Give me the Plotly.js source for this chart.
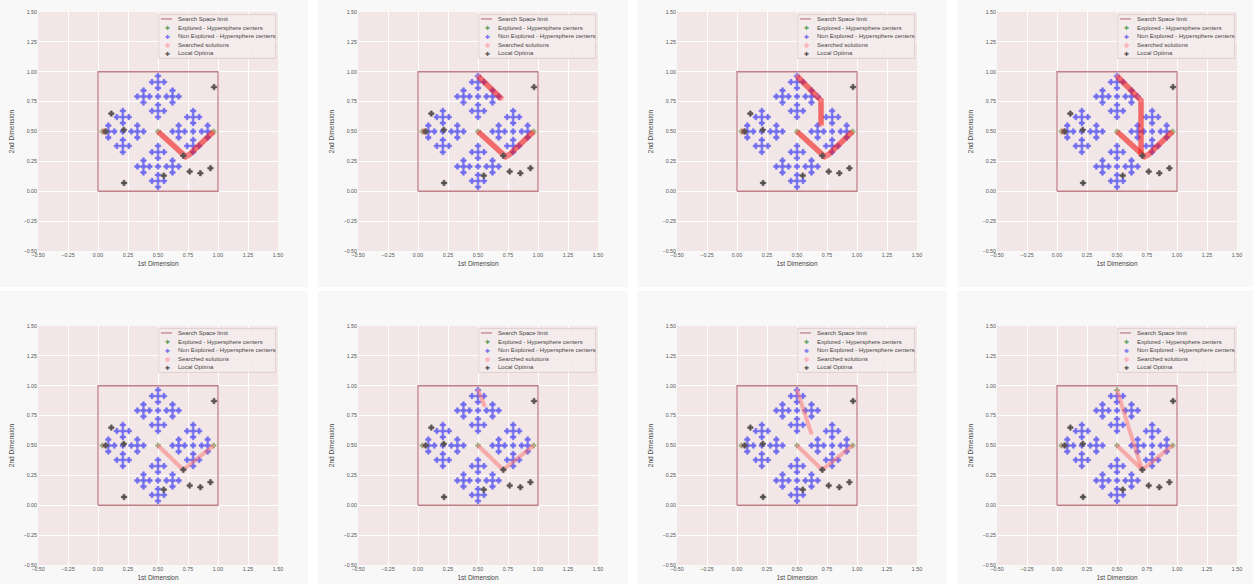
<!DOCTYPE html>
<html>
<head>
<meta charset="utf-8">
<script src="https://cdn.plot.ly/plotly-3.0.1.min.js"></script>
<style>
html,body{margin:0;padding:0;background:#ffffff;width:1253px;height:584px;overflow:hidden;position:relative;}
.panel{position:absolute;width:310px;height:310px;}
</style>
</head>
<body>
<script>
// ---------- DATA ----------
const searchLimitX = [0, 1, 1, 0, 0];
const searchLimitY = [0, 0, 1, 1, 0];

// Non explored hypersphere centers (four sub-diamonds)
const centersX = [
  // top
  0.5, 0.5,0.5,0.5,0.45,0.55, 0.5,0.5,0.5,0.45,0.55, 0.379,0.328,0.429,0.379,0.379, 0.621,0.571,0.672,0.621,0.621,
  // bottom
  0.5, 0.5,0.5,0.5,0.45,0.55, 0.5,0.5,0.5,0.45,0.55, 0.379,0.328,0.429,0.379,0.379, 0.621,0.571,0.672,0.621,0.621,
  // left
  0.207, 0.086,0.136,0.086,0.086, 0.328,0.278,0.379,0.328,0.328, 0.207,0.207,0.207,0.157,0.257, 0.207,0.207,0.207,0.157,0.257,
  // right
  0.793, 0.914,0.864,0.914,0.914, 0.672,0.722,0.621,0.672,0.672, 0.793,0.793,0.793,0.743,0.843, 0.793,0.793,0.793,0.743,0.843
];
const centersY = [
  0.793, 0.914,0.964,0.864,0.914,0.914, 0.672,0.722,0.621,0.672,0.672, 0.793,0.793,0.793,0.843,0.743, 0.793,0.793,0.793,0.843,0.743,
  0.207, 0.086,0.036,0.136,0.086,0.086, 0.328,0.278,0.379,0.328,0.328, 0.207,0.207,0.207,0.257,0.157, 0.207,0.207,0.207,0.257,0.157,
  0.5, 0.5,0.5,0.45,0.55, 0.5,0.5,0.5,0.45,0.55, 0.379,0.328,0.429,0.379,0.379, 0.621,0.571,0.672,0.621,0.621,
  0.5, 0.5,0.5,0.45,0.55, 0.5,0.5,0.5,0.45,0.55, 0.379,0.328,0.429,0.379,0.379, 0.621,0.571,0.672,0.621,0.621
];

// Explored hypersphere centers
const exploredX = [0.5, 0.036, 0.964];
const exploredY = [0.5, 0.5, 0.5];
const exploredExtraX = [0.5];     // added in the last panel
const exploredExtraY = [0.964];

// Local optima
const optimaX = [0.967, 0.111, 0.215, 0.064, 0.711, 0.548, 0.764, 0.853, 0.937, 0.217];
const optimaY = [0.872, 0.650, 0.514, 0.500, 0.297, 0.131, 0.165, 0.151, 0.193, 0.069];

// Searched solutions paths (null separates segments)
const pathBaseX1 = [0.036, 0.07, null, 0.5, 0.70, 0.73, 0.76, 0.964];
const pathBaseY1 = [0.5, 0.5, null, 0.5, 0.305, 0.29, 0.305, 0.5];
const pathBaseX2 = [0.036, 0.07, null, 0.5, 0.71, 0.964];
const pathBaseY2 = [0.5, 0.5, null, 0.5, 0.297, 0.5];

const extraPathX = [
  [],
  [0.5, 0.70],
  [0.5, 0.67, 0.70, 0.70],
  [0.5, 0.68, 0.70, 0.70],
  [],
  [0.5, 0.555],
  [0.5, 0.62],
  [0.5, 0.707]
];
const extraPathY = [
  [],
  [0.964, 0.77],
  [0.964, 0.80, 0.76, 0.55],
  [0.964, 0.79, 0.76, 0.30],
  [],
  [0.964, 0.83],
  [0.964, 0.60],
  [0.964, 0.30]
];

const tickVals = [-0.5, -0.25, 0, 0.25, 0.5, 0.75, 1.0, 1.25, 1.5];
const tickText = ["\u22120.50", "\u22120.25", "0.00", "0.25", "0.50", "0.75", "1.00", "1.25", "1.50"];

const legendNames = ["Search Space limit", "Explored - Hypersphere centers", "Non Explored - Hypersphere centers", "Searched solutions", "Local Optima"];

// ---------- STYLE ----------
const colLeft = [-1.7, 317.7, 637.1, 956.5];
const rowTop = [-22.7, 291];
const FONT = '"Liberation Sans", Arial, sans-serif';
const COL_LIMIT = 'rgb(192,128,138)';
const COL_EXPL = 'rgba(20,140,20,0.6)';
const COL_NONEX = 'rgb(112,108,240)';
const COL_SEARCH = 'rgba(255,150,160,0.4)';
const COL_OPT = 'rgb(88,82,82)';

function legendDecor() {
  // manual compact legend (paper coordinates)
  const rowsY = [0.971, 0.935, 0.899, 0.864, 0.828];
  const symX = 0.540, txtX = 0.575;
  const shapes = [
    {type: 'rect', xref: 'paper', yref: 'paper', x0: 0.503, x1: 0.990, y0: 0.806, y1: 0.989,
     fillcolor: 'rgba(245,236,236,0.85)', line: {color: '#dcc8c8', width: 0.8}, layer: 'above'},
    {type: 'line', xref: 'paper', yref: 'paper', x0: 0.512, x1: 0.558, y0: rowsY[0], y1: rowsY[0],
     line: {color: COL_LIMIT, width: 1.3}, layer: 'above'}
  ];
  const glyphs = [null, ['\u271A', 'rgb(95,160,95)'], ['\u271A', COL_NONEX], ['\u25CF', 'rgba(255,170,180,0.8)'], ['\u271A', COL_OPT]];
  const annotations = [];
  legendNames.forEach((name, i) => {
    annotations.push({xref: 'paper', yref: 'paper', x: txtX, y: rowsY[i], text: name, showarrow: false,
      xanchor: 'left', yanchor: 'middle', font: {family: FONT, size: 6, color: '#444'}});
    if (glyphs[i]) {
      annotations.push({xref: 'paper', yref: 'paper', x: symX, y: rowsY[i], text: glyphs[i][0], showarrow: false,
        xanchor: 'center', yanchor: 'middle', font: {family: 'DejaVu Sans', size: 6, color: glyphs[i][1]}});
    }
  });
  return {shapes, annotations};
}

function makePanel(idx) {
  const row = Math.floor(idx / 4), col = idx % 4;
  const div = document.createElement('div');
  div.className = 'panel';
  div.style.left = colLeft[col] + 'px';
  div.style.top = rowTop[row] + 'px';
  document.body.appendChild(div);

  let exX = exploredX.slice(), exY = exploredY.slice();
  if (idx === 7) { exX = exX.concat(exploredExtraX); exY = exY.concat(exploredExtraY); }
  const isExplored = (x, y) => exX.some((ex, i) => Math.abs(ex - x) < 1e-6 && Math.abs(exY[i] - y) < 1e-6);
  const bx = [], by = [];
  centersX.forEach((x, i) => { if (!isExplored(x, centersY[i])) { bx.push(x); by.push(centersY[i]); } });

  const base = row === 0 ? [pathBaseX1, pathBaseY1] : [pathBaseX2, pathBaseY2];
  let px = base[0].slice(), py = base[1].slice();
  if (extraPathX[idx].length) { px = px.concat([null], extraPathX[idx]); py = py.concat([null], extraPathY[idx]); }

  const lineColor = row === 0 ? 'rgba(242,25,25,0.6)' : 'rgba(250,110,110,0.5)';
  const lineWidth = row === 0 ? 5.5 : 4;

  const traces = [
    {x: searchLimitX, y: searchLimitY, mode: 'lines', name: legendNames[0],
     line: {color: COL_LIMIT, width: 1.3}},
    {x: exX, y: exY, mode: 'markers', name: legendNames[1],
     marker: {symbol: 'cross', size: 4.5, color: COL_EXPL, line: {width: 0}}},
    {x: bx, y: by, mode: 'markers', name: legendNames[2],
     marker: {symbol: 'cross', size: 4.5, color: COL_NONEX, line: {color: COL_NONEX, width: 0.6}}},
    {x: px, y: py, mode: 'lines', name: legendNames[3] + ' path', connectgaps: false,
     line: {color: lineColor, width: lineWidth}},
    {x: px, y: py, mode: 'markers', name: legendNames[3],
     marker: {symbol: 'circle', size: 4, color: COL_SEARCH}},
    {x: optimaX, y: optimaY, mode: 'markers', name: legendNames[4],
     marker: {symbol: 'cross', size: 4.5, color: COL_OPT, line: {color: COL_OPT, width: 0.6}}}
  ];

  const axisCommon = {
    range: [-0.5, 1.5], tickvals: tickVals, ticktext: tickText,
    showgrid: true, gridcolor: '#ffffff', gridwidth: 1, zeroline: false,
    showline: false, ticks: '', automargin: false,
    tickfont: {family: FONT, size: 5.3, color: '#555'}, fixedrange: true
  };

  const deco = legendDecor();
  const layout = {
    width: 310, height: 310,
    margin: {l: 40, r: 30, t: 35, b: 36, pad: 0},
    paper_bgcolor: '#f8f8f8',
    plot_bgcolor: '#f2e6e6',
    font: {family: FONT, color: '#444'},
    showlegend: false,
    xaxis: Object.assign({}, axisCommon, {
      title: {text: '1st Dimension', font: {family: FONT, size: 6.5, color: '#444'}, standoff: 4}
    }),
    yaxis: Object.assign({}, axisCommon, {
      title: {text: '2nd Dimension', font: {family: FONT, size: 6.5, color: '#444'}, standoff: 8}
    }),
    shapes: deco.shapes,
    annotations: deco.annotations
  };
  Plotly.newPlot(div, traces, layout, {displayModeBar: false, staticPlot: true});
}

for (let i = 0; i < 8; i++) makePanel(i);
</script>
</body>
</html>
